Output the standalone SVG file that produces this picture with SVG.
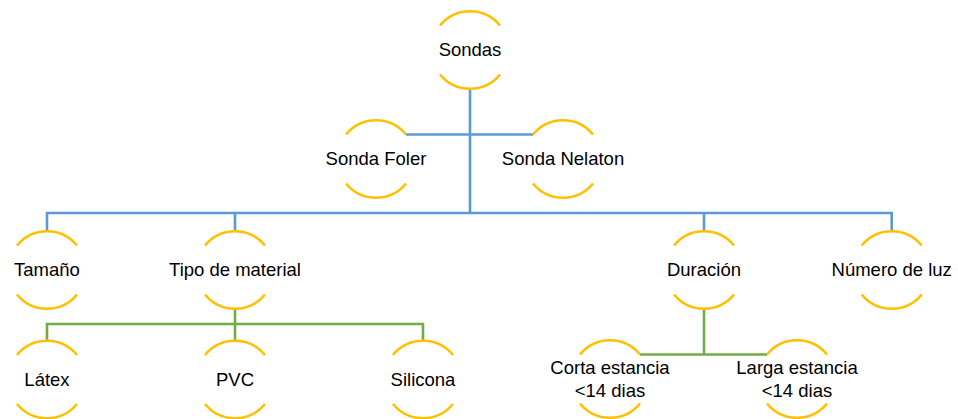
<svg xmlns="http://www.w3.org/2000/svg" xmlns:xlink="http://www.w3.org/1999/xlink" width="958" height="419" viewBox="0 0 958 419">
  <style>
    .ring { fill: none; stroke: #FFC000; stroke-width: 2.6; }
    .blue { fill: none; stroke: #5B9BD5; stroke-width: 2.6; }
    .green { fill: none; stroke: #70AD47; stroke-width: 2.6; }
    text { font-family: "Liberation Sans", Arial, sans-serif; font-size: 18.5px; fill: #000; text-anchor: middle; }
  </style>
  <defs>
    <!-- open circle: only top and bottom arcs, centred on 0,0 -->
    <g id="ring">
      <path class="ring" d="M -30 -24.5 A 38.7 38.7 0 0 1 30 -24.5"/>
      <path class="ring" d="M -30 24.5 A 38.7 38.7 0 0 0 30 24.5"/>
    </g>
  </defs>
  <rect width="958" height="419" fill="#fff"/>

  <g id="connectors">
    <path class="blue" d="M 470 88.7 V 213"/>
    <path class="blue" d="M 406 134.5 H 533"/>
    <path class="blue" d="M 47 231.3 V 213 H 891.7 V 231.3"/>
    <path class="blue" d="M 235 213 V 231.3"/>
    <path class="blue" d="M 704 213 V 231.3"/>
    <path class="green" d="M 235 308.7 V 324"/>
    <path class="green" d="M 47 340.8 V 324 H 423 V 340.8"/>
    <path class="green" d="M 235 324 V 340.8"/>
    <path class="green" d="M 704 308.7 V 354.5"/>
    <path class="green" d="M 640 354.5 H 767"/>
  </g>

  <g id="sondas"><use xlink:href="#ring" x="470" y="50"/><text x="470" y="56">Sondas</text></g>
  <g id="sonda-foler"><use xlink:href="#ring" x="376" y="159"/><text x="376" y="165">Sonda Foler</text></g>
  <g id="sonda-nelaton"><use xlink:href="#ring" x="563" y="159"/><text x="563" y="165">Sonda Nelaton</text></g>
  <g id="tamano"><use xlink:href="#ring" x="47" y="270"/><text x="47" y="276">Tamaño</text></g>
  <g id="tipo-material"><use xlink:href="#ring" x="235" y="270"/><text x="235" y="276">Tipo de material</text></g>
  <g id="duracion"><use xlink:href="#ring" x="704" y="270"/><text x="704" y="276">Duración</text></g>
  <g id="numero-luz"><use xlink:href="#ring" x="891.7" y="270"/><text x="891.7" y="276">Número de luz</text></g>
  <g id="latex"><use xlink:href="#ring" x="47" y="379.5"/><text x="47" y="386">Látex</text></g>
  <g id="pvc"><use xlink:href="#ring" x="235" y="379.5"/><text x="235" y="386">PVC</text></g>
  <g id="silicona"><use xlink:href="#ring" x="423" y="379.5"/><text x="423" y="386">Silicona</text></g>
  <g id="corta-estancia"><use xlink:href="#ring" x="610" y="379"/><text x="610" y="374">Corta estancia</text><text x="610" y="396.5">&lt;14 dias</text></g>
  <g id="larga-estancia"><use xlink:href="#ring" x="797" y="379"/><text x="797" y="374">Larga estancia</text><text x="797" y="396.5">&lt;14 dias</text></g>
</svg>
